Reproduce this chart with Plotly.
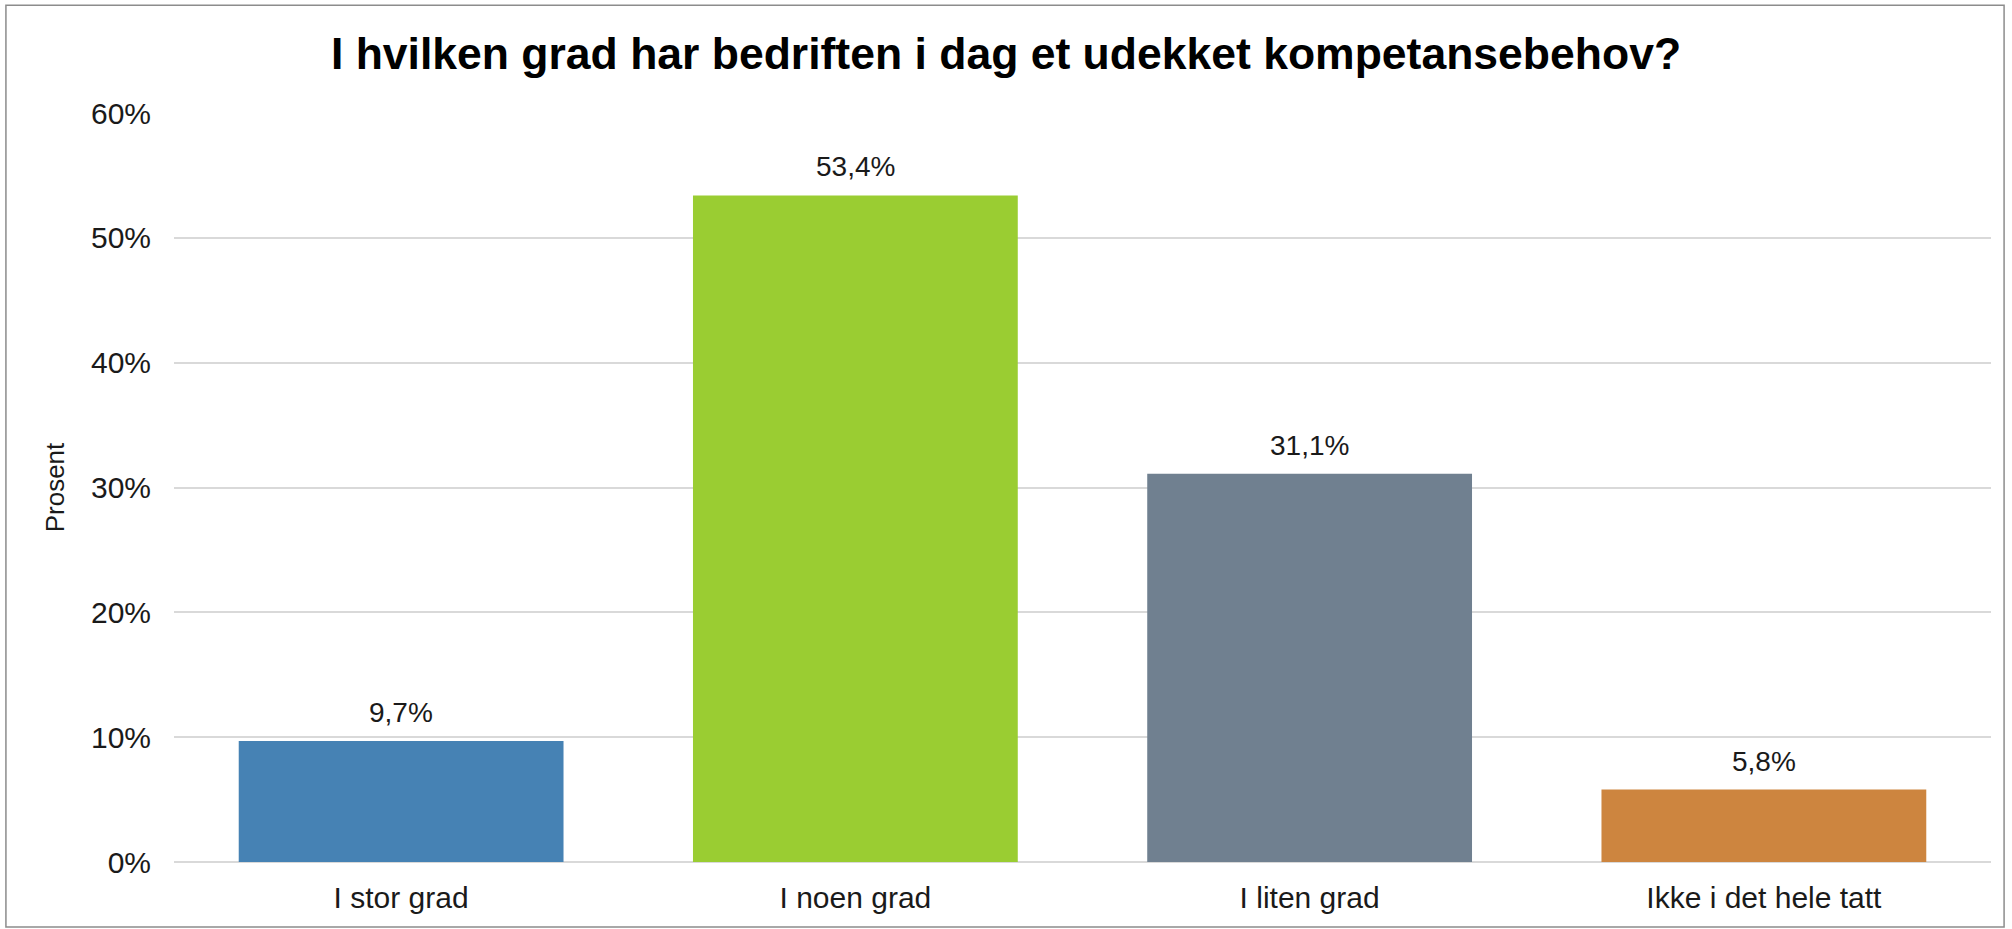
import plotly.graph_objects as go

# survey answers, percent of companies
categories = ["I stor grad", "I noen grad", "I liten grad", "Ikke i det hele tatt"]
values = [9.7, 53.4, 31.1, 5.8]
value_labels = ["9,7%", "53,4%", "31,1%", "5,8%"]
bar_colors = ["#4682B4", "#9ACD32", "#708090", "#CD853F"]
y_ticks = [0, 10, 20, 30, 40, 50, 60]
y_tick_labels = ["0%", "10%", "20%", "30%", "40%", "50%", "60%"]

FONT = "Liberation Sans, Arial, sans-serif"
TEXT_COLOR = "#1a1a1a"

fig = go.Figure(
    go.Bar(
        x=categories,
        y=values,
        marker=dict(color=bar_colors, line=dict(width=0)),
        hoverinfo="skip",
    )
)

for cat, val, label in zip(categories, values, value_labels):
    fig.add_annotation(
        x=cat,
        y=val,
        text=label,
        showarrow=False,
        yanchor="bottom",
        yshift=11,
        font=dict(size=28, color=TEXT_COLOR, family=FONT),
    )

# thin frame round the whole chart
fig.add_shape(
    type="rect",
    xref="paper",
    yref="paper",
    x0=-0.0925,
    x1=1.0072,
    y0=-0.0868,
    y1=1.144,
    line=dict(color="#8c8c8c", width=1.5),
    layer="below",
)

fig.update_layout(
    width=2012,
    height=929,
    margin=dict(l=174, r=21, t=113, b=67),
    paper_bgcolor="white",
    plot_bgcolor="white",
    bargap=0.285,
    showlegend=False,
    font=dict(family=FONT, color=TEXT_COLOR, size=30),
    title=dict(
        text="<b>I hvilken grad har bedriften i dag et udekket kompetansebehov?</b>",
        x=0.5,
        xanchor="center",
        xref="container",
        y=1 - 53 / 929,
        yref="container",
        yanchor="middle",
        font=dict(size=44.5, family=FONT, color="#000000"),
    ),
)

fig.update_xaxes(
    showgrid=False,
    showline=False,
    ticks="",
    tickfont=dict(size=30),
    ticklabelstandoff=15,
)
fig.update_yaxes(
    range=[0, 60],
    tickvals=y_ticks,
    ticktext=y_tick_labels,
    showgrid=True,
    gridcolor="#d9d9d9",
    gridwidth=2,
    zeroline=True,
    zerolinecolor="#d9d9d9",
    zerolinewidth=2,
    showline=False,
    ticks="",
    tickfont=dict(size=30),
    ticklabelstandoff=22,
    title=dict(text="Prosent", font=dict(size=26), standoff=18),
)

# drop the browser's default body margin so the figure sits at the window corner
fig.write_html(
    "out.html",
    config={"displayModeBar": False},
    post_script="document.body.style.margin='0';",
)
